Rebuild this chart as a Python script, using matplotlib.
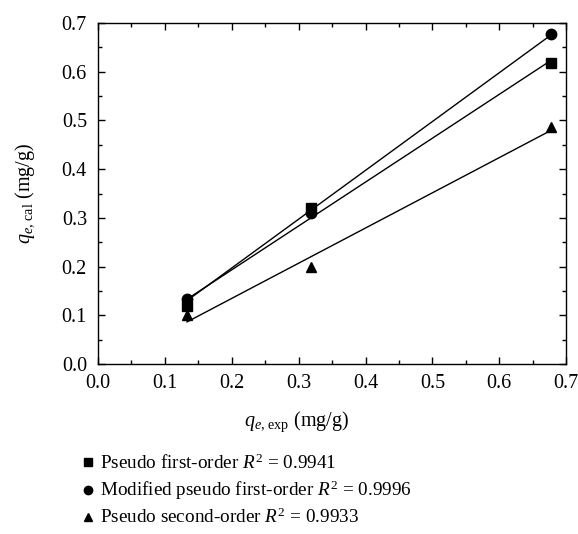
import numpy as np
import matplotlib
matplotlib.use("Agg")
import matplotlib.pyplot as plt

plt.rcParams['font.family'] = ['Liberation Serif', 'DejaVu Serif']
plt.rcParams['mathtext.fontset'] = 'custom'
plt.rcParams['mathtext.rm'] = 'Liberation Serif'
plt.rcParams['mathtext.it'] = 'Liberation Serif:italic'

# experimental q_e (mg/g)
q_exp = [0.133, 0.318, 0.678]

# calculated q_e for each kinetic model
first_order = [0.120, 0.320, 0.617]
mod_first_order = [0.134, 0.310, 0.678]
second_order = [0.100, 0.200, 0.487]

labels = [r'Pseudo first-order $R^2$ = 0.9941',
          r'Modified pseudo first-order $R^2$ = 0.9996',
          r'Pseudo second-order $R^2$ = 0.9933']
markers = ['s', 'o', '^']

fig = plt.figure(figsize=(5.78, 5.34), dpi=100)
ax = fig.add_axes([0.1696, 0.318, 0.81, 0.639])

x = np.array(q_exp)
handles = []
for y, m, lab in zip([first_order, mod_first_order, second_order], markers, labels):
    y = np.array(y)
    k, b = np.polyfit(x, y, 1)
    xs = np.array([x[0], x[-1]])
    ax.plot(xs, k * xs + b, color='black', lw=1.0)
    h, = ax.plot(x, y, linestyle='none', marker=m, color='black', markersize=7.5)
    handles.append(h)

ax.set_xlim(0, 0.7)
ax.set_ylim(0, 0.7)
ax.set_xticks(np.arange(0, 0.71, 0.1))
ax.set_yticks(np.arange(0, 0.71, 0.1))
ax.set_xticks(np.arange(0, 0.71, 0.05), minor=True)
ax.set_yticks(np.arange(0, 0.71, 0.05), minor=True)
ax.tick_params(which='both', direction='in', top=True, right=True, labelsize=14.5)
ax.tick_params(which='major', length=5, width=1.0)
ax.tick_params(which='minor', length=3, width=1.0)
ax.tick_params(axis='x', pad=7)
ax.tick_params(axis='y', pad=8)
ax.set_xticklabels(['%.1f' % v for v in np.arange(0, 0.71, 0.1)])
ax.set_yticklabels(['%.1f' % v for v in np.arange(0, 0.71, 0.1)])
for s in ax.spines.values():
    s.set_linewidth(1.0)

ax.set_ylabel(r'$q_{e,\,\mathrm{cal}}$ (mg/g)', fontsize=14.5)
ax.yaxis.set_label_coords(-0.13, 0.5)
fig.text(297 / 578, 1 - 422 / 534, r'$q_{e,\,\mathrm{exp}}$ (mg/g)', fontsize=14.5,
         ha='center', va='center')

fig.legend(handles, labels, loc='upper left', bbox_to_anchor=(0.13, 1 - 446 / 534),
           frameon=False, fontsize=13.8, handlelength=0.5, handletextpad=0.4,
           labelspacing=0.3, markerscale=0.8, borderaxespad=0)

fig.savefig('out.png', dpi=100)
